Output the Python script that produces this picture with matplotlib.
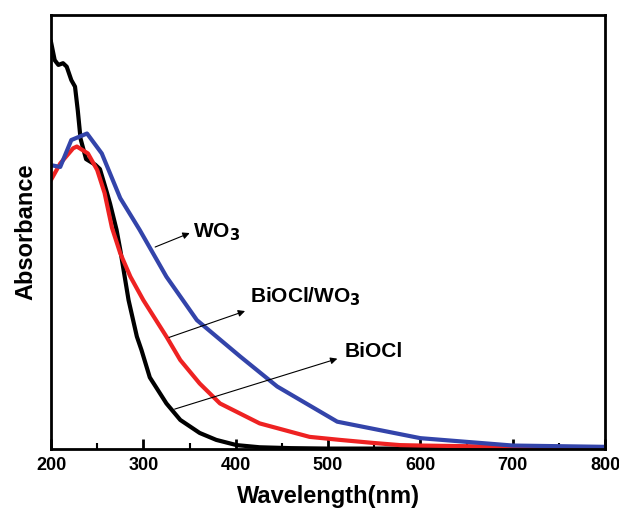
import numpy as np
import matplotlib.pyplot as plt
from matplotlib.ticker import MultipleLocator

plt.rcParams['font.family'] = ['Liberation Sans', 'DejaVu Sans']
plt.rcParams['font.weight'] = 'bold'

# BiOCl (noir)
wl_biocl = [200, 204, 208, 213, 217, 222, 226, 229, 232, 238, 248, 253, 260, 264,
            271, 275, 284, 293, 298, 307, 325, 340, 361, 379, 401, 426, 460, 500, 600, 700, 800]
abs_biocl = [0.938, 0.896, 0.885, 0.889, 0.881, 0.850, 0.835, 0.780, 0.715, 0.668, 0.655,
             0.645, 0.595, 0.565, 0.505, 0.459, 0.343, 0.259, 0.228, 0.165, 0.105, 0.067,
             0.037, 0.021, 0.009, 0.004, 0.002, 0.001, 0.001, 0.001, 0.001]

# BiOCl/WO3 (rouge)
wl_comp = [200, 210, 224, 228, 240, 250, 258, 266, 275, 286, 300, 325, 340, 361,
           383, 426, 480, 513, 549, 578, 600, 700, 800]
abs_comp = [0.620, 0.658, 0.693, 0.697, 0.681, 0.643, 0.590, 0.510, 0.451, 0.397, 0.343,
            0.259, 0.205, 0.151, 0.105, 0.059, 0.028, 0.021, 0.014, 0.009, 0.008, 0.005, 0.004]

# WO3 (bleu)
wl_wo3 = [200, 210, 222, 239, 255, 275, 296, 325, 358, 405, 445, 510, 600, 700, 800]
abs_wo3 = [0.654, 0.650, 0.712, 0.727, 0.681, 0.578, 0.505, 0.397, 0.297, 0.213, 0.144,
           0.063, 0.025, 0.008, 0.005]

fig = plt.figure(figsize=(6.19, 5.11), dpi=100)
ax = fig.add_axes([0.0824, 0.1213, 0.8950, 0.8493])

ax.plot(wl_biocl, abs_biocl, color='black', lw=3)
ax.plot(wl_comp, abs_comp, color='#ee2222', lw=3)
ax.plot(wl_wo3, abs_wo3, color='#3344aa', lw=3)

ax.set_xlim(200, 800)
ax.set_ylim(0, 1)
ax.xaxis.set_major_locator(MultipleLocator(100))
ax.xaxis.set_minor_locator(MultipleLocator(50))
ax.tick_params(axis='x', which='major', direction='in', length=7, width=2, labelsize=13, pad=6)
ax.tick_params(axis='x', which='minor', direction='in', length=4, width=1.5)
ax.set_yticks([])
for s in ax.spines.values():
    s.set_linewidth(2)

ax.set_xlabel('Wavelength(nm)', fontsize=17, fontweight='bold', labelpad=8)
ax.set_ylabel('Absorbance', fontsize=17, fontweight='bold', labelpad=10)

# Annotations avec flèches
fleche = dict(arrowstyle='-|>', color='black', lw=0.8, mutation_scale=10)
ax.annotate('', xy=(353, 0.50), xytext=(310, 0.463), arrowprops=fleche)
ax.text(354, 0.50, 'WO$_\\mathbf{3}$', fontsize=15, fontweight='bold', va='center')
ax.annotate('', xy=(413, 0.32), xytext=(325, 0.255), arrowprops=fleche)
ax.text(415, 0.351, 'BiOCl/WO$_\\mathbf{3}$', fontsize=15, fontweight='bold', va='center')
ax.annotate('', xy=(513, 0.21), xytext=(331, 0.09), arrowprops=fleche)
ax.text(518, 0.224, 'BiOCl', fontsize=15, fontweight='bold', va='center')

plt.savefig('out.png', dpi=100)
